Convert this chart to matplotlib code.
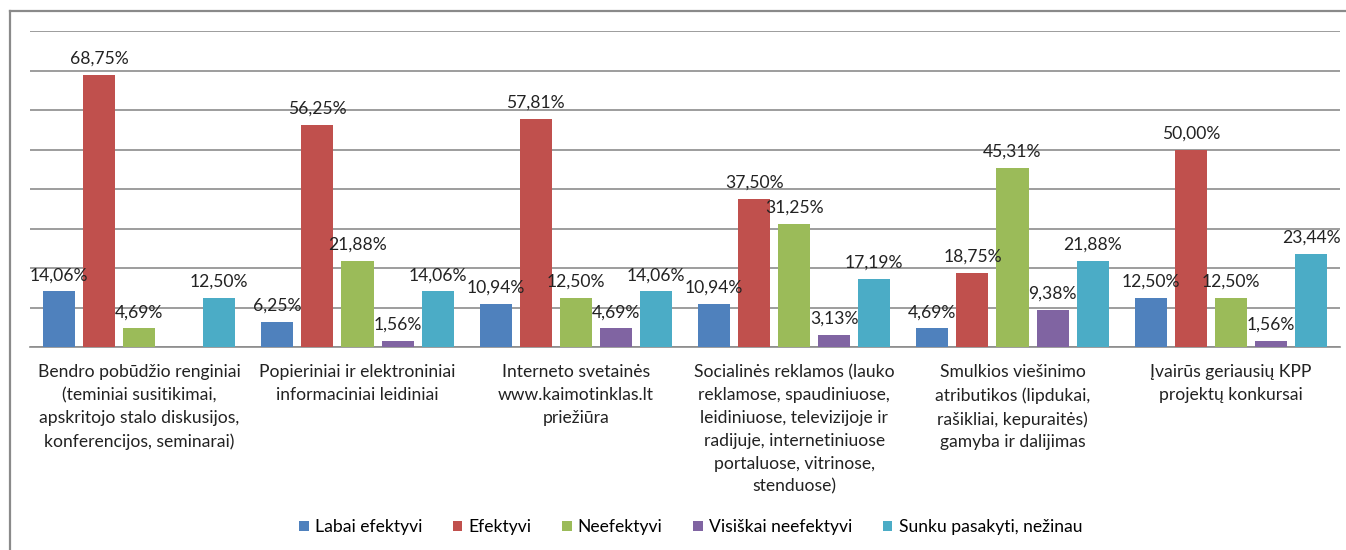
import numpy as np
import matplotlib
matplotlib.use("Agg")
import matplotlib.pyplot as plt
from matplotlib.lines import Line2D

plt.rcParams['font.family'] = ['Lato', 'DejaVu Sans']

# categories (wrapped as in the original)
categories = [
    "Bendro pobūdžio renginiai\n(teminiai susitikimai,\napskritojo stalo diskusijos,\nkonferencijos, seminarai)",
    "Popieriniai ir elektroniniai\ninformaciniai leidiniai",
    "Interneto svetainės\nwww.kaimotinklas.lt\npriežiūra",
    "Socialinės reklamos (lauko\nreklamose, spaudiniuose,\nleidiniuose, televizijoje ir\nradijuje, internetiniuose\nportaluose, vitrinose,\nstenduose)",
    "Smulkios viešinimo\natributikos (lipdukai,\nrašikliai, kepuraitės)\ngamyba ir dalijimas",
    "Įvairūs geriausių KPP\nprojektų konkursai",
]

series_names = ["Labai efektyvi", "Efektyvi", "Neefektyvi",
                "Visiškai neefektyvi", "Sunku pasakyti, nežinau"]

labai_efektyvi = [14.06, 6.25, 10.94, 10.94, 4.69, 12.50]
efektyvi = [68.75, 56.25, 57.81, 37.50, 18.75, 50.00]
neefektyvi = [4.69, 21.88, 12.50, 31.25, 45.31, 12.50]
visiskai_neefektyvi = [None, 1.56, 4.69, 3.13, 9.38, 1.56]
sunku_pasakyti = [12.50, 14.06, 14.06, 17.19, 21.88, 23.44]

series = [labai_efektyvi, efektyvi, neefektyvi, visiskai_neefektyvi, sunku_pasakyti]
colors = ["#4F81BD", "#C0504D", "#9BBB59", "#8064A2", "#4BACC6"]

fig = plt.figure(figsize=(13.46, 5.5), dpi=100)
ax = fig.add_axes([30 / 1346, 1 - 347 / 550, 1310 / 1346, 316 / 550])

x = np.arange(len(categories))
step = 40 / 218
width = 32 / 218

for i, (vals, col, name) in enumerate(zip(series, colors, series_names)):
    xs = x + (i - 2) * step
    h = [v if v is not None else 0 for v in vals]
    ax.bar(xs, h, width=width, color=col, label=name, zorder=3)
    for xi, v in zip(xs, vals):
        if v is None:
            continue
        ax.annotate(f"{v:.2f}%".replace(".", ","), (xi, v),
                    xytext=(0, 6), textcoords="offset points",
                    ha="center", va="bottom", fontsize=12.6, color="#222222", zorder=5)

ax.set_xlim(-0.5, len(categories) - 0.5)
ax.set_ylim(0, 80)
ax.set_yticks(np.arange(0, 81, 10))
ax.yaxis.grid(True, color="#8c8c8c", linewidth=1.2, zorder=0)
ax.tick_params(axis="y", left=False, labelleft=False)
ax.tick_params(axis="x", bottom=False, pad=9)
ax.set_xticks(x)
ax.set_xticklabels(categories, fontsize=12.6, linespacing=1.52, color="#222222", va="top")
for s in ["top", "right", "left"]:
    ax.spines[s].set_visible(False)
ax.spines["bottom"].set_color("#8c8c8c")
ax.spines["bottom"].set_linewidth(1.2)

# outer chart frame (left and top edges visible)
fx = 9.5 / 1346
fy = 1 - 11 / 550
fig.add_artist(Line2D([fx, fx], [0, fy], transform=fig.transFigure, color="#8a8a8a", linewidth=1.6))
fig.add_artist(Line2D([fx, 1], [fy, fy], transform=fig.transFigure, color="#8a8a8a", linewidth=1.6))

fig.legend(loc="center", bbox_to_anchor=(0.513, 1 - 527 / 550), ncol=5, frameon=False,
           fontsize=12.6, handlelength=0.55, handleheight=0.55, handletextpad=0.35,
           columnspacing=1.75)

fig.savefig("out.png", dpi=100)
